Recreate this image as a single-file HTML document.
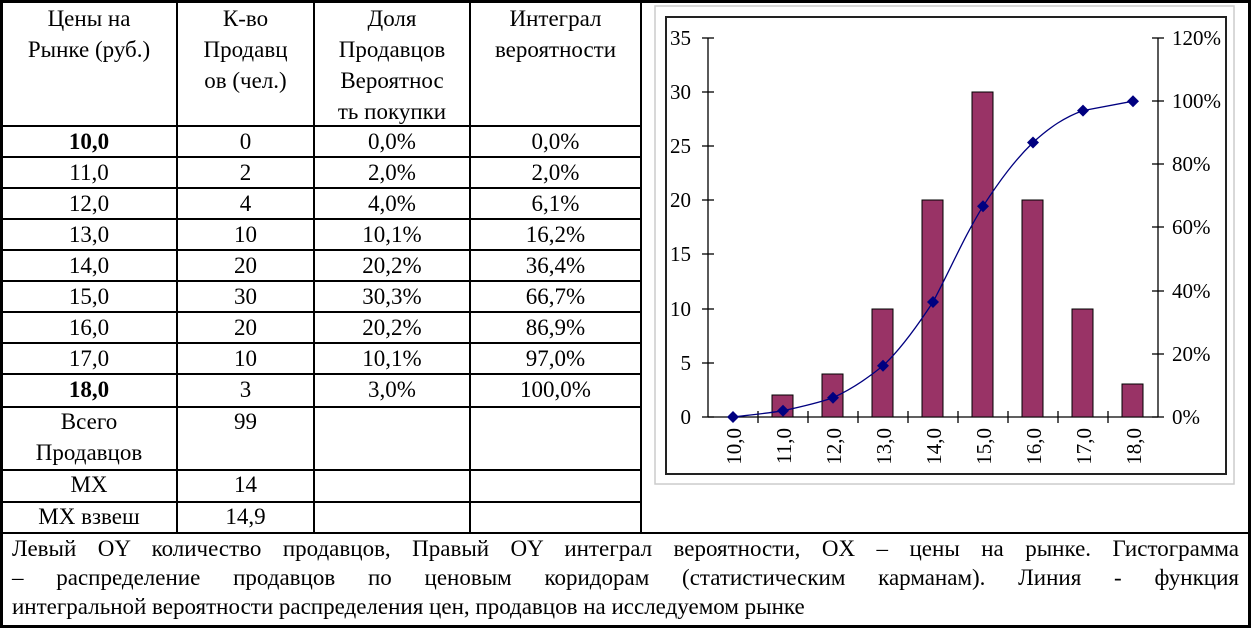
<!DOCTYPE html>
<html><head><meta charset="utf-8"><style>
body{margin:0;background:#fff;}
#w{position:relative;width:1251px;height:628px;overflow:hidden;font-family:"Liberation Serif","Tinos","Times New Roman","DejaVu Serif",serif;font-size:23px;color:#000;}
.h{position:absolute;height:2px;background:#000;}
.v{position:absolute;width:2px;background:#000;}
.t{position:absolute;text-align:center;line-height:31px;}
.j{position:absolute;left:12px;width:1227px;text-align:justify;text-align-last:justify;white-space:nowrap;line-height:29px;}
</style></head><body><div id="w">
<div class="h" style="left:0;top:0;width:1251px;height:3px"></div>
<div class="h" style="left:0;top:625px;width:1251px;height:3px"></div>
<div class="v" style="left:0;top:0;height:628px;width:3px"></div>
<div class="v" style="left:1248px;top:0;height:628px;width:3px"></div>
<div class="h" style="left:0;top:532px;width:1251px"></div>
<div class="v" style="left:176px;top:0;height:533px"></div>
<div class="v" style="left:313px;top:0;height:533px"></div>
<div class="v" style="left:469px;top:0;height:533px"></div>
<div class="v" style="left:640px;top:0;height:533px"></div>
<div class="h" style="left:0;top:125px;width:641px"></div>
<div class="h" style="left:0;top:156px;width:641px"></div>
<div class="h" style="left:0;top:187px;width:641px"></div>
<div class="h" style="left:0;top:218px;width:641px"></div>
<div class="h" style="left:0;top:249px;width:641px"></div>
<div class="h" style="left:0;top:280px;width:641px"></div>
<div class="h" style="left:0;top:311px;width:641px"></div>
<div class="h" style="left:0;top:342px;width:641px"></div>
<div class="h" style="left:0;top:373px;width:641px"></div>
<div class="h" style="left:0;top:406px;width:641px"></div>
<div class="h" style="left:0;top:469px;width:641px"></div>
<div class="h" style="left:0;top:501px;width:641px"></div>
<div class="t" style="left:2px;top:3px;width:174px">Цены на<br>Рынке (руб.)</div>
<div class="t" style="left:178px;top:3px;width:135px">К-во<br>Продавц<br>ов (чел.)</div>
<div class="t" style="left:315px;top:3px;width:154px">Доля<br>Продавцов<br>Вероятнос<br>ть покупки</div>
<div class="t" style="left:471px;top:3px;width:169px">Интеграл<br>вероятности</div>
<div class="t" style="left:2px;top:126px;width:174px"><b>10,0</b><br>11,0<br>12,0<br>13,0<br>14,0<br>15,0<br>16,0<br>17,0<br><b>18,0</b></div>
<div class="t" style="left:178px;top:126px;width:135px">0<br>2<br>4<br>10<br>20<br>30<br>20<br>10<br>3</div>
<div class="t" style="left:315px;top:126px;width:154px">0,0%<br>2,0%<br>4,0%<br>10,1%<br>20,2%<br>30,3%<br>20,2%<br>10,1%<br>3,0%</div>
<div class="t" style="left:471px;top:126px;width:169px">0,0%<br>2,0%<br>6,1%<br>16,2%<br>36,4%<br>66,7%<br>86,9%<br>97,0%<br>100,0%</div>
<div class="t" style="left:2px;top:406px;width:174px">Всего<br>Продавцов</div>
<div class="t" style="left:178px;top:406px;width:135px">99</div>
<div class="t" style="left:2px;top:469px;width:174px">МХ</div>
<div class="t" style="left:178px;top:469px;width:135px">14</div>
<div class="t" style="left:2px;top:501px;width:174px">МХ взвеш</div>
<div class="t" style="left:178px;top:501px;width:135px">14,9</div>
<div class="j" style="top:534px">Левый OY количество продавцов, Правый OY интеграл вероятности, OX – цены на рынке. Гистограмма</div>
<div class="j" style="top:563px">– распределение продавцов по ценовым коридорам (статистическим карманам). Линия - функция</div>
<div class="j" style="top:592px;text-align-last:left;text-align:left">интегральной вероятности распределения цен, продавцов на исследуемом рынке</div>
<svg style="position:absolute;left:0;top:0" width="1251" height="628" font-family="Liberation Serif, Tinos, Times New Roman, serif" font-size="21">
<rect x="655" y="6" width="579" height="478" fill="none" stroke="#ccc" stroke-width="1.5"/>
<rect x="666" y="17" width="560" height="457" fill="none" stroke="#222" stroke-width="2"/>
<g stroke="#000" stroke-width="1.3">
<line x1="708" y1="38" x2="708" y2="417"/><line x1="1158" y1="38" x2="1158" y2="417"/>
<line x1="708" y1="417" x2="1158" y2="417"/>
<line x1="702" y1="38" x2="714" y2="38"/><line x1="702" y1="92" x2="714" y2="92"/><line x1="702" y1="146" x2="714" y2="146"/><line x1="702" y1="200" x2="714" y2="200"/><line x1="702" y1="254" x2="714" y2="254"/><line x1="702" y1="309" x2="714" y2="309"/><line x1="702" y1="363" x2="714" y2="363"/><line x1="702" y1="417" x2="714" y2="417"/>
<line x1="1152" y1="38" x2="1164" y2="38"/><line x1="1152" y1="101" x2="1164" y2="101"/><line x1="1152" y1="164" x2="1164" y2="164"/><line x1="1152" y1="227" x2="1164" y2="227"/><line x1="1152" y1="291" x2="1164" y2="291"/><line x1="1152" y1="354" x2="1164" y2="354"/><line x1="1152" y1="417" x2="1164" y2="417"/>
<line x1="758" y1="411" x2="758" y2="423"/><line x1="808" y1="411" x2="808" y2="423"/><line x1="858" y1="411" x2="858" y2="423"/><line x1="908" y1="411" x2="908" y2="423"/><line x1="958" y1="411" x2="958" y2="423"/><line x1="1008" y1="411" x2="1008" y2="423"/><line x1="1058" y1="411" x2="1058" y2="423"/><line x1="1108" y1="411" x2="1108" y2="423"/>
</g>
<g fill="#993366" stroke="#000" stroke-width="1">
<rect x="772" y="395" width="21" height="22"/><rect x="822" y="374" width="21" height="43"/><rect x="872" y="309" width="21" height="108"/><rect x="922" y="200" width="21" height="217"/><rect x="972" y="92" width="21" height="325"/><rect x="1022" y="200" width="21" height="217"/><rect x="1072" y="309" width="21" height="108"/><rect x="1122" y="384" width="21" height="33"/>
</g>
<path d="M733,417 C750,415 770,413 783,410.7 C800,407 818,403 833,397.7 C850,390 868,378 883,365.8 C900,350 918,325 933,302 C950,270 965,235 983,206.3 C1000,180 1015,160 1033,142.5 C1050,127 1065,117 1083,110.6 L1133,101.2" fill="none" stroke="#000080" stroke-width="1.3"/>
<g fill="#000080">
<path d="M733,411 l6,6 -6,6 -6,-6z"/><path d="M783,404.7 l6,6 -6,6 -6,-6z"/><path d="M833,391.7 l6,6 -6,6 -6,-6z"/><path d="M883,359.8 l6,6 -6,6 -6,-6z"/><path d="M933,296 l6,6 -6,6 -6,-6z"/><path d="M983,200.3 l6,6 -6,6 -6,-6z"/><path d="M1033,136.5 l6,6 -6,6 -6,-6z"/><path d="M1083,104.6 l6,6 -6,6 -6,-6z"/><path d="M1133,95.2 l6,6 -6,6 -6,-6z"/>
</g>
<g text-anchor="end">
<text x="691" y="45">35</text><text x="691" y="99">30</text><text x="691" y="153">25</text><text x="691" y="207">20</text><text x="691" y="261">15</text><text x="691" y="316">10</text><text x="691" y="370">5</text><text x="691" y="424">0</text>
</g>
<g>
<text x="1172" y="45">120%</text><text x="1172" y="108">100%</text><text x="1172" y="171">80%</text><text x="1172" y="234">60%</text><text x="1172" y="298">40%</text><text x="1172" y="361">20%</text><text x="1172" y="424">0%</text>
</g>
<g text-anchor="end">
<text transform="translate(741,428) rotate(-90)">10,0</text><text transform="translate(791,428) rotate(-90)">11,0</text><text transform="translate(841,428) rotate(-90)">12,0</text><text transform="translate(891,428) rotate(-90)">13,0</text><text transform="translate(941,428) rotate(-90)">14,0</text><text transform="translate(991,428) rotate(-90)">15,0</text><text transform="translate(1041,428) rotate(-90)">16,0</text><text transform="translate(1091,428) rotate(-90)">17,0</text><text transform="translate(1141,428) rotate(-90)">18,0</text>
</g>
</svg>
</div></body></html>
